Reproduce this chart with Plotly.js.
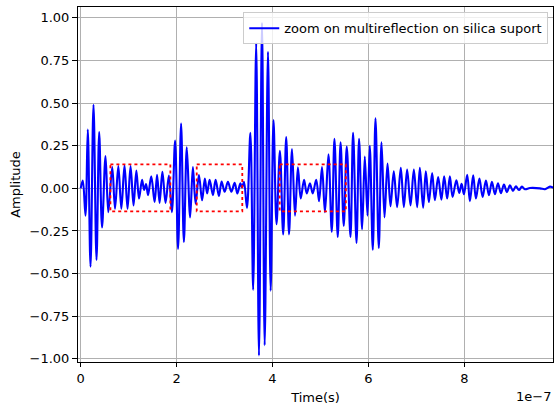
<!DOCTYPE html>
<html>
<head>
<meta charset="utf-8">
<script src="https://cdn.plot.ly/plotly-3.0.1.min.js"></script>
<style>html,body{margin:0;padding:0;background:#fff;}#chart{width:554px;height:405px;}</style>
</head>
<body>
<div id="chart"></div>
<script>
// Signal extrema (time in ns, amplitude)
const timeNs = [0,4.4,10.0,14.8,20.5,26.7,33.0,38.6,44.5,51.8,57.6,65.8,71.6,78.5,84.8,91.4,97.7,104.0,110.2,116.1,121.7,128.0,132.2,136.3,140.5,147.2,154.1,159.3,164.5,170.4,177.0,183.9,190.2,196.9,203.1,209.4,215.2,221.3,228.2,234.0,239.7,246.6,253.2,258.9,263.7,268.9,275.8,281.4,288.3,293.9,300.2,307.1,314.2,321.1,326.7,333.0,336.3,340.5,346.8,353.9,359.7,366.0,371.8,378.1,383.7,390.6,396.2,402.1,408.4,415.5,422.3,428.6,434.5,440.7,447.0,453.0,458.9,465.8,471.4,478.1,483.9,491.2,497.1,503.3,509.4,516.7,523.6,529.2,536.1,542.0,548.6,554.9,562.6,568.1,575.2,580.6,586.9,592.5,598.1,602.9,609.2,614.8,621.7,627.4,633.6,639.9,646.1,653.0,659.9,667.6,673.9,680.8,687.9,694.8,701.7,707.3,714.2,719.8,726.1,733.0,738.6,745.5,752.2,758.0,764.3,769.9,775.6,783.5,789.4,794.4,799.2,806.1,811.7,818.6,824.2,831.5,838.2,845.1,851.4,857.6,863.9,870.2,876.4,882.7,888.9,895.2,901.5,907.7,914.0,920.3,926.5,937.0,957.8,968.3,978.7,985.0,1000.0];
const amplitude = [0,0.045,-0.16,0.345,-0.46,0.49,-0.42,0.33,-0.23,0.19,-0.14,0.125,-0.12,0.13,-0.12,0.135,-0.12,0.13,-0.10,0.105,-0.06,0.05,-0.01,0.025,-0.04,0.07,-0.08,0.08,-0.085,0.097,-0.085,0.075,-0.14,0.28,-0.355,0.38,-0.315,0.24,-0.17,0.125,-0.09,0.078,-0.07,0.057,-0.03,0.05,-0.04,0.05,-0.045,0.04,-0.02,0.038,-0.02,0.032,-0.03,0.03,0.005,0.038,-0.115,0.325,-0.595,0.85,-0.98,0.97,-0.92,0.8,-0.6,0.4,-0.21,0.22,-0.27,0.3,-0.27,0.23,-0.16,0.123,-0.06,0.05,-0.03,0.03,-0.03,0.05,-0.075,0.125,-0.14,0.2,-0.255,0.29,-0.285,0.27,-0.22,0.245,-0.285,0.325,-0.32,0.29,-0.24,0.187,-0.16,0.25,-0.36,0.41,-0.35,0.27,-0.17,0.145,-0.105,0.1,-0.11,0.12,-0.11,0.11,-0.1,0.11,-0.11,0.12,-0.113,0.1,-0.08,0.09,-0.07,0.066,-0.066,0.07,-0.06,0.07,-0.05,0.047,-0.027,0.027,-0.035,0.08,-0.075,0.076,-0.06,0.057,-0.05,0.045,-0.04,0.038,-0.035,0.03,-0.028,0.022,-0.022,0.018,-0.015,0.012,-0.01,0.01,-0.005,0.002,0.0,-0.005,0.01,0.005,0.0];

// Red dotted zoom boxes (ns, amplitude)
const boxStartNs = [62, 242, 415];
const boxEndNs = [187, 337, 553];
const boxTop = 0.14;
const boxBottom = -0.135;

const xTickVals = [0, 2e-7, 4e-7, 6e-7, 8e-7];
const xTickText = ["0", "2", "4", "6", "8"];
const yTickVals = [-1, -0.75, -0.5, -0.25, 0, 0.25, 0.5, 0.75, 1];

const legendLabel = "zoom on multireflection on silica suport";

const FONT = "DejaVu Sans, sans-serif";

const traces = [];
traces.push({
  x: timeNs.map(t => t * 1e-9),
  y: amplitude,
  type: "scatter",
  mode: "lines",
  name: legendLabel,
  line: {color: "#0000ff", width: 2.1, shape: "spline", smoothing: 1},
  hoverinfo: "skip"
});
for (let i = 0; i < boxStartNs.length; i++) {
  const a = boxStartNs[i] * 1e-9, b = boxEndNs[i] * 1e-9;
  traces.push({
    x: [a, b, b, a, a],
    y: [boxTop, boxTop, boxBottom, boxBottom, boxTop],
    type: "scatter",
    mode: "lines",
    showlegend: false,
    line: {color: "#ff0000", width: 1.8, dash: "dot"},
    hoverinfo: "skip"
  });
}

const layout = {
  width: 554, height: 405,
  margin: {l: 78, r: 1, t: 7, b: 43, pad: 0},
  paper_bgcolor: "#ffffff",
  plot_bgcolor: "#ffffff",
  font: {family: FONT, size: 13, color: "#000000"},
  showlegend: true,
  legend: {
    x: 0.99, xanchor: "right", y: 0.985, yanchor: "top",
    bgcolor: "rgba(255,255,255,0.8)",
    bordercolor: "#cccccc", borderwidth: 1,
    font: {family: FONT, size: 13, color: "#000"},
    itemwidth: 30
  },
  xaxis: {
    range: [-0.056e-7, 9.85e-7],
    tickvals: xTickVals, ticktext: xTickText,
    showgrid: true, gridcolor: "#b0b0b0", gridwidth: 1,
    zeroline: false,
    showline: true, mirror: true, linecolor: "#000", linewidth: 1,
    ticks: "outside", ticklen: 4, tickcolor: "#000", tickwidth: 1,
    tickfont: {family: FONT, size: 13, color: "#000"},
    title: {text: "Time(s)", font: {family: FONT, size: 13}, standoff: 8}
  },
  yaxis: {
    range: [-1.018, 1.063],
    tickvals: yTickVals, tickformat: ".2f",
    showgrid: true, gridcolor: "#b0b0b0", gridwidth: 1,
    zeroline: false,
    showline: true, mirror: true, linecolor: "#000", linewidth: 1,
    ticks: "outside", ticklen: 5, tickcolor: "#000", tickwidth: 1,
    tickfont: {family: FONT, size: 13, color: "#000"},
    title: {text: "Amplitude", font: {family: FONT, size: 13}, standoff: 6}
  },
  annotations: [{
    xref: "paper", yref: "paper", x: 1, y: 0, xanchor: "right", yanchor: "middle",
    yshift: -34, text: "1e\u22127", showarrow: false,
    font: {family: FONT, size: 13, color: "#000"}
  }]
};

Plotly.newPlot("chart", traces, layout, {staticPlot: true, displayModeBar: false});
</script>
</body>
</html>
